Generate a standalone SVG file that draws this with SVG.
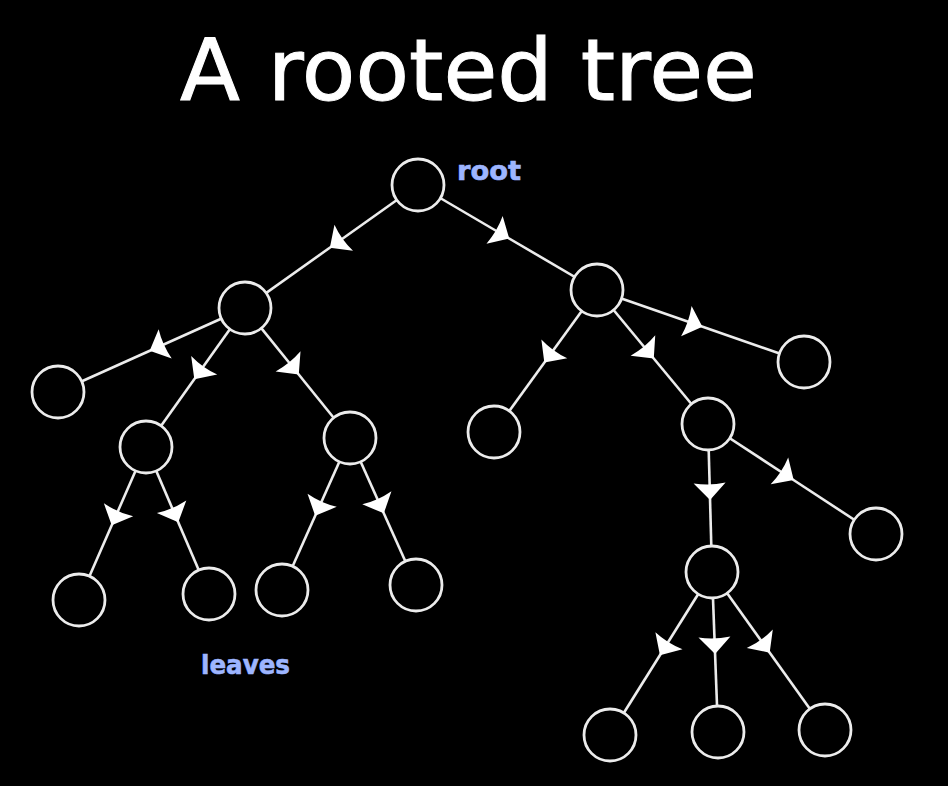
<svg xmlns="http://www.w3.org/2000/svg" width="948" height="786" viewBox="0 0 948 786">
<style>
.node{fill:#000;stroke:#ececec;stroke-width:2.8}
.edge{fill:none;stroke:#ececec;stroke-width:2.6;marker-mid:url(#ah)}
.title{font-family:"DejaVu Sans",sans-serif;font-size:86px;fill:#fff;stroke:#fff;stroke-width:1}
.lab{font-family:"DejaVu Sans",sans-serif;font-weight:bold;font-size:26px;fill:#9db5ff;stroke:#9db5ff;stroke-width:0.6}
</style>
<defs>
<marker id="ah" markerUnits="userSpaceOnUse" markerWidth="24" markerHeight="38" viewBox="-19 -19 24 38" refX="0" refY="0" orient="auto">
<path d="M2,0 L-15,-16 Q-12,0 -15,16 Z" fill="#fff"/>
</marker>
</defs>
<rect width="948" height="786" fill="#000"/>
<text class="title" x="180" y="100" textLength="577" lengthAdjust="spacingAndGlyphs">A rooted tree</text>
<text class="lab" x="457" y="180" textLength="64" lengthAdjust="spacingAndGlyphs">root</text>
<text class="lab" x="201" y="674" textLength="89" lengthAdjust="spacingAndGlyphs">leaves</text>
<g id="connectors">
<path class="edge" d="M418,185 L331.5,246.5 L245,308"/>
<path class="edge" d="M418,185 L507.5,237.5 L597,290"/>
<path class="edge" d="M245,308 L151.5,350 L58,392"/>
<path class="edge" d="M245,308 L195.5,377.5 L146,447"/>
<path class="edge" d="M245,308 L297.5,373 L350,438"/>
<path class="edge" d="M146,447 L112.5,523.5 L79,600"/>
<path class="edge" d="M146,447 L177.5,520.5 L209,594"/>
<path class="edge" d="M350,438 L316,514 L282,590"/>
<path class="edge" d="M350,438 L383,511.5 L416,585"/>
<path class="edge" d="M597,290 L545.5,361 L494,432"/>
<path class="edge" d="M597,290 L652.5,357 L708,424"/>
<path class="edge" d="M597,290 L700.5,326 L804,362"/>
<path class="edge" d="M708,424 L710,498 L712,572"/>
<path class="edge" d="M708,424 L792,479 L876,534"/>
<path class="edge" d="M712,572 L661,653.5 L610,735"/>
<path class="edge" d="M712,572 L715,652 L718,732"/>
<path class="edge" d="M712,572 L768.5,651 L825,730"/>
</g>
<g id="n-root"><circle class="node" cx="418" cy="185" r="26"/></g>
<g id="n-a"><circle class="node" cx="245" cy="308" r="26"/></g>
<g id="n-b"><circle class="node" cx="597" cy="290" r="26"/></g>
<g id="n-a1"><circle class="node" cx="58" cy="392" r="26"/></g>
<g id="n-a2"><circle class="node" cx="146" cy="447" r="26"/></g>
<g id="n-a3"><circle class="node" cx="350" cy="438" r="26"/></g>
<g id="n-a2a"><circle class="node" cx="79" cy="600" r="26"/></g>
<g id="n-a2b"><circle class="node" cx="209" cy="594" r="26"/></g>
<g id="n-a3a"><circle class="node" cx="282" cy="590" r="26"/></g>
<g id="n-a3b"><circle class="node" cx="416" cy="585" r="26"/></g>
<g id="n-b1"><circle class="node" cx="494" cy="432" r="26"/></g>
<g id="n-b2"><circle class="node" cx="708" cy="424" r="26"/></g>
<g id="n-b3"><circle class="node" cx="804" cy="362" r="26"/></g>
<g id="n-b2a"><circle class="node" cx="712" cy="572" r="26"/></g>
<g id="n-b2b"><circle class="node" cx="876" cy="534" r="26"/></g>
<g id="n-b2a1"><circle class="node" cx="610" cy="735" r="26"/></g>
<g id="n-b2a2"><circle class="node" cx="718" cy="732" r="26"/></g>
<g id="n-b2a3"><circle class="node" cx="825" cy="730" r="26"/></g>
</svg>
